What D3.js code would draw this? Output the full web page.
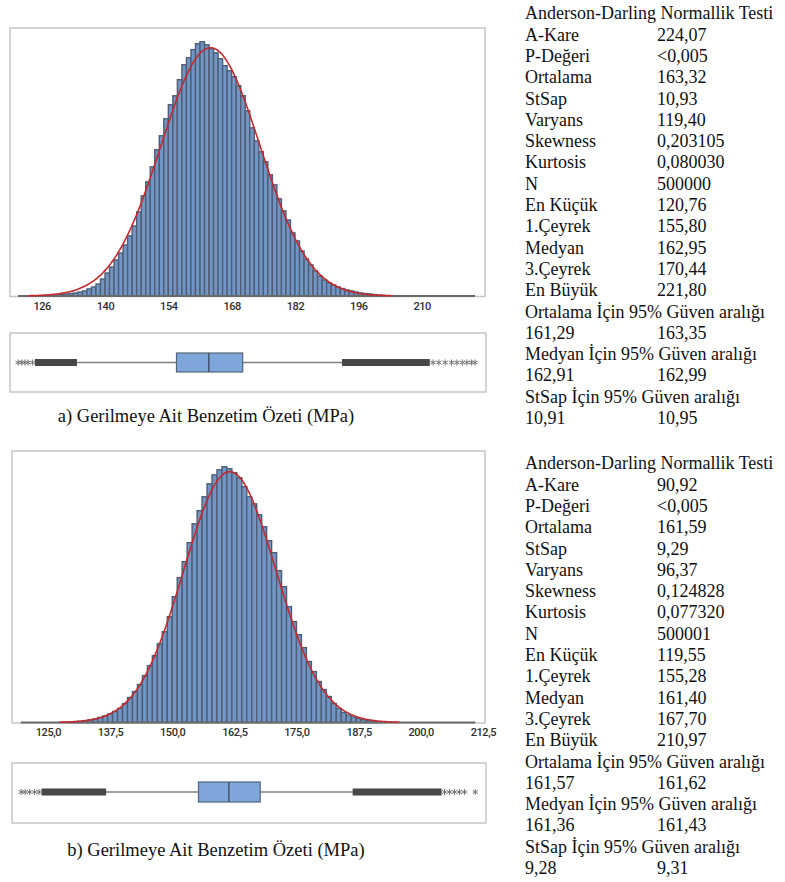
<!DOCTYPE html>
<html>
<head>
<meta charset="utf-8">
<script src="https://cdn.jsdelivr.net/npm/d3@7"></script>
<style>
  body { margin: 0; background: #fff; }
  svg { display: block; }
  .serif { font-family: "Liberation Serif", "Tinos", "Nimbus Roman", "Noto Serif", "FreeSerif", "DejaVu Serif", "Times New Roman", Times, serif; }
</style>
</head>
<body>
<svg width="785" height="882"></svg>
<script>
// ---- data ----
var statLabels = ["Anderson-Darling Normallik Testi", "A-Kare", "P-Değeri", "Ortalama", "StSap", "Varyans",
  "Skewness", "Kurtosis", "N", "En Küçük", "1.Çeyrek", "Medyan", "3.Çeyrek", "En Büyük"];
var ciLabels = ["Ortalama İçin 95% Güven aralığı", "Medyan İçin 95% Güven aralığı", "StSap İçin 95% Güven aralığı"];

var statsA = ["", "224,07", "<0,005", "163,32", "10,93", "119,40", "0,203105", "0,080030", "500000",
  "120,76", "155,80", "162,95", "170,44", "221,80"];
var ciA = [["161,29", "163,35"], ["162,91", "162,99"], ["10,91", "10,95"]];
var statsB = ["", "90,92", "<0,005", "161,59", "9,29", "96,37", "0,124828", "0,077320", "500001",
  "119,55", "155,28", "161,40", "167,70", "210,97"];
var ciB = [["161,57", "161,62"], ["161,36", "161,43"], ["9,28", "9,31"]];

var ticksA = [126, 140, 154, 168, 182, 196, 210];
var ticksB = [125, 137.5, 150, 162.5, 175, 187.5, 200, 212.5];

// histogram counts per 1 MPa bin
var binStartA = 129;
var countsA = [70, 110, 150, 180, 220, 290, 370, 520, 660, 880, 1250, 1690, 2130, 2650, 3160, 3750, 4420,
  5150, 6180, 7360, 8390, 9490, 10750, 11780, 13030, 14060, 14720, 15900, 17000, 17520, 18110, 18550,
  18690, 18470, 18180, 17880, 17440, 16930, 16560, 16120, 15460, 14720, 13620, 12360, 11410, 10600,
  9860, 8910, 8170, 7140, 6260, 5590, 4640, 4050, 3310, 2720, 2280, 1840, 1470, 1180, 960, 810, 660,
  550, 440, 370, 290, 220, 180, 150, 110, 70, 50];
var binStartB = 129;
var countsB = [40, 60, 90, 150, 210, 300, 430, 560, 730, 940, 1200, 1620, 2140, 2650, 3250, 4020, 4870,
  5730, 6750, 7780, 9060, 10770, 12400, 13770, 15390, 17010, 18130, 19320, 20430, 21200, 21630, 21890,
  21720, 21380, 20950, 20180, 19320, 18720, 17780, 16760, 15560, 14540, 13000, 11630, 9920, 8640,
  7520, 6410, 5220, 4360, 3510, 2820, 2220, 1620, 1200, 860, 640, 470, 340, 240, 170, 100, 70, 40];

// boxplot outliers: single stars and dense runs [from, to]
var starsA = [120.8, 121.6, 122.3, 123.0, 124.0, 212.5, 213.8, 215.2, 216.6, 217.8, 219.0, 220.0, 221.0, 221.8];
var runsA = [[124.5, 133.8], [192.4, 211.8]];
var starsB = [119.6, 120.4, 121.3, 122.3, 123.2, 204.8, 205.8, 206.8, 207.8, 208.8, 210.97];
var runsB = [[123.7, 136.7], [186.3, 204.2]];

function num(s) { return +s.replace(",", ".").replace("<", ""); }

var svg = d3.select("svg");

function panel(o) {
  var g = svg.append("g");
  var x = d3.scaleLinear().domain(o.xDomain).range([o.left, o.right]);
  var y = d3.scaleLinear().domain([0, o.yMax]).range([o.hBottom, o.hTop]);

  var mean = num(o.stats[3]), sd = num(o.stats[4]), n = num(o.stats[8]);
  var mn = num(o.stats[9]), q1 = num(o.stats[10]), med = num(o.stats[11]), q3 = num(o.stats[12]), mx = num(o.stats[13]);

  // histogram frame
  g.append("rect").attr("x", o.left).attr("y", o.hTop).attr("width", o.right - o.left)
    .attr("height", o.hBottom + 0.5 - o.hTop).attr("fill", "none").attr("stroke", "#c6c6c6").attr("stroke-width", 1.5);

  g.selectAll(".bar").data(o.counts).enter().append("rect")
    .attr("x", function(d, i) { return x(o.binStart + i); })
    .attr("y", function(d) { return y(d); })
    .attr("width", function(d, i) { return x(o.binStart + i + 1) - x(o.binStart + i); })
    .attr("height", function(d) { return y(0) - y(d); })
    .attr("fill", "#7196c6").attr("stroke", "#4f5e74").attr("stroke-width", 1.4);

  // data range line on the bottom
  g.append("line").attr("x1", x(mn)).attr("x2", x(mx)).attr("y1", o.hBottom).attr("y2", o.hBottom)
    .attr("stroke", "#6a6a6a").attr("stroke-width", 2);

  // fitted normal curve
  var pts = d3.range(mean - 3.7 * sd, mean + 3.7 * sd, 0.25).map(function(v) {
    return [v, n * Math.exp(-0.5 * Math.pow((v - mean) / sd, 2)) / (sd * Math.sqrt(2 * Math.PI))];
  });
  g.append("path").datum(pts)
    .attr("d", d3.line().x(function(d) { return x(d[0]); }).y(function(d) { return y(d[1]); }).curve(d3.curveBasis))
    .attr("fill", "none").attr("stroke", "#c22a2e").attr("stroke-width", 1.6);

  // tick labels
  var ax = g.append("g").attr("transform", "translate(0," + (o.hBottom + 1) + ")")
    .call(d3.axisBottom(x).tickValues(o.ticks).tickSize(0).tickPadding(5)
      .tickFormat(function(d) { return o.tickFmt(d).replace(".", ","); }));
  ax.select(".domain").remove();
  ax.selectAll("text").attr("font-family", "Roboto, sans-serif").attr("font-size", 11)
    .attr("fill", "#2e2e2e").attr("font-weight", 500).attr("letter-spacing", -0.4);

  // boxplot frame
  g.append("rect").attr("x", o.left).attr("y", o.bTop).attr("width", o.right - o.left + 1)
    .attr("height", o.bBottom - o.bTop).attr("fill", "none").attr("stroke", "#c6c6c6").attr("stroke-width", 1.5);

  var iqr = q3 - q1, lo = q1 - 1.5 * iqr, hi = q3 + 1.5 * iqr;
  var cy = (o.boxTop + o.boxBottom) / 2;
  g.append("line").attr("x1", x(lo)).attr("x2", x(hi)).attr("y1", cy).attr("y2", cy)
    .attr("stroke", "#808080").attr("stroke-width", 1.3);
  g.append("rect").attr("x", x(q1)).attr("y", o.boxTop).attr("width", x(q3) - x(q1))
    .attr("height", o.boxBottom - o.boxTop).attr("fill", "#7ea6da").attr("stroke", "#55647a").attr("stroke-width", 1.2);
  g.append("line").attr("x1", x(med)).attr("x2", x(med)).attr("y1", o.boxTop).attr("y2", o.boxBottom)
    .attr("stroke", "#44526a").attr("stroke-width", 1.5);

  g.selectAll(".run").data(o.runs).enter().append("rect")
    .attr("x", function(d) { return x(d[0]); }).attr("y", cy - 3.5)
    .attr("width", function(d) { return x(d[1]) - x(d[0]); }).attr("height", 7)
    .attr("fill", "#474747");
  var star = d3.symbol().type(d3.symbolAsterisk).size(26);
  g.selectAll(".star").data(o.stars).enter().append("path")
    .attr("transform", function(d) { return "translate(" + x(d) + "," + cy + ")"; })
    .attr("d", star).attr("fill", "none").attr("stroke", "#6a6a6a").attr("stroke-width", 0.9);

  // caption
  g.append("text").attr("class", "serif").attr("x", o.capX).attr("y", o.capY).attr("dy", "0.35em")
    .attr("text-anchor", "middle").attr("font-size", 18.5).attr("fill", "#111").text(o.caption);

  // statistics block
  var rows = [];
  statLabels.forEach(function(l, i) { rows.push([l, o.stats[i]]); });
  ciLabels.forEach(function(l, i) { rows.push([l, ""]); rows.push([o.ci[i][0], o.ci[i][1]]); });
  var t = g.append("g").attr("class", "serif").attr("font-size", 18).attr("fill", "#111");
  rows.forEach(function(r, i) {
    var yy = o.textTop + i * o.rowStep;
    t.append("text").attr("x", 525).attr("y", yy).attr("dy", "0.35em").text(r[0]);
    if (r[1]) t.append("text").attr("x", 657).attr("y", yy).attr("dy", "0.35em").text(r[1]);
  });
}

panel({
  stats: statsA, ci: ciA, counts: countsA, binStart: binStartA, ticks: ticksA,
  tickFmt: d3.format("d"), runs: runsA, stars: starsA,
  xDomain: [119, 224], left: 10, right: 485, hTop: 28, hBottom: 296, yMax: 19700,
  bTop: 333, bBottom: 392, boxTop: 353, boxBottom: 372,
  caption: "a) Gerilmeye Ait Benzetim Özeti (MPa)", capX: 206, capY: 416,
  textTop: 13, rowStep: 21.3
});

panel({
  stats: statsB, ci: ciB, counts: countsB, binStart: binStartB, ticks: ticksB,
  tickFmt: d3.format(".1f"), runs: runsB, stars: starsB,
  xDomain: [117.76, 212.93], left: 12, right: 485, hTop: 451, hBottom: 722.5, yMax: 23240,
  bTop: 763, bBottom: 823, boxTop: 782, boxBottom: 802,
  caption: "b) Gerilmeye Ait Benzetim Özeti (MPa)", capX: 216, capY: 850,
  textTop: 463, rowStep: 21.3
});
</script>
</body>
</html>
